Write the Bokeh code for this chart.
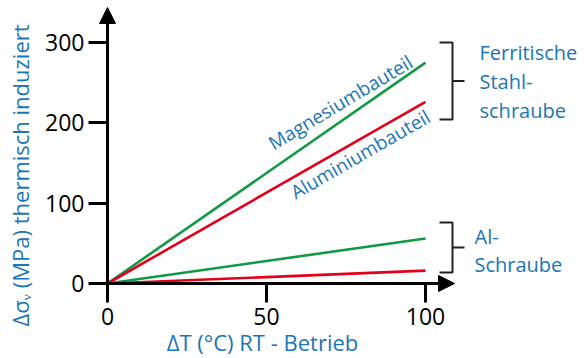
import math
from bokeh.plotting import figure
from bokeh.models import Range1d, Label, Arrow, NormalHead, FixedTicker
from bokeh.embed import file_html
from bokeh.resources import INLINE

# ---- data ----
dT = [0, 100]
mg_part_steel = [0, 275]   # Magnesiumbauteil, ferritische Stahlschraube
al_part_steel = [0, 226]   # Aluminiumbauteil, ferritische Stahlschraube
mg_part_alscrew = [0, 56]  # Magnesiumbauteil, Al-Schraube
al_part_alscrew = [0, 16]  # Aluminiumbauteil, Al-Schraube
x_ticks = [0, 50, 100]
y_ticks = [0, 100, 200, 300]

# ---- style ----
FONT = "Open Sans"
BLUE = "#1a76b5"
GREEN = "#109a45"
RED = "#e2001a"

W, H = 588, 358
X0, Y0 = 107, 283   # pixel position of the origin
XS = 3.18           # px per unit x
YS = 0.80333        # px per unit y
FIX = 0.35          # baseline correction (em)


def dx(px):
    return (px - X0) / XS


def dy(py):
    return (Y0 - py) / YS


def label(text, px, py, size, angle_deg=0.0, align="left"):
    # px, py: wanted baseline start in pixels
    s = FIX * size
    a = math.radians(angle_deg)
    px -= s * math.sin(a)
    py -= s * math.cos(a)
    p.add_layout(Label(x=dx(px), y=dy(py), text=text, angle=a, text_font=FONT,
                       text_font_size=f"{size}px", text_color=BLUE,
                       text_align=align, text_baseline="alphabetic"))


p = figure(width=W, height=H, output_backend="svg", toolbar_location=None,
           x_range=Range1d(dx(0), dx(W)), y_range=Range1d(dy(H), dy(0)),
           min_border=0)
p.outline_line_color = None
p.grid.visible = False
p.background_fill_color = "white"

for ax in (p.xaxis[0], p.yaxis[0]):
    ax.fixed_location = 0
    ax.axis_line_color = None
    ax.major_tick_in = 0
    ax.major_tick_out = 19
    ax.major_tick_line_width = 3
    ax.major_tick_line_color = "black"
    ax.minor_tick_line_color = None
    ax.major_label_text_font = FONT
    ax.major_label_text_font_size = "23px"
    ax.major_label_text_color = "black"

p.xaxis.ticker = FixedTicker(ticks=x_ticks)
p.yaxis.ticker = FixedTicker(ticks=y_ticks)
p.xaxis.major_label_standoff = 5
p.yaxis.major_label_standoff = 4

# data lines
p.line(dT, mg_part_steel, line_color=GREEN, line_width=2.6)
p.line(dT, al_part_steel, line_color=RED, line_width=2.6)
p.line(dT, mg_part_alscrew, line_color=GREEN, line_width=2.6)
p.line(dT, al_part_alscrew, line_color=RED, line_width=2.6)

# axis arrows
p.add_layout(Arrow(x_start=0, y_start=0, x_end=dx(454), y_end=0, line_width=3,
                   line_color="black",
                   end=NormalHead(size=16, fill_color="black", line_color="black")))
p.add_layout(Arrow(x_start=0, y_start=0, x_end=0, y_end=dy(7), line_width=3,
                   line_color="black",
                   end=NormalHead(size=16, fill_color="black", line_color="black")))

# line labels
label("Magnesiumbauteil", 273, 150, 19, 31)
label("Aluminiumbauteil", 295, 199, 19, 30)

# brackets
BR = "#222222"
for top, bot in ((42, 119), (222, 272)):
    mid = (top + bot) / 2
    p.line([dx(439), dx(452), dx(452), dx(439)], [dy(top), dy(top), dy(bot), dy(bot)],
           line_color=BR, line_width=2)
    p.line([dx(452), dx(464)], [dy(mid), dy(mid)], line_color=BR, line_width=2)

for txt, px, py in (("Ferritische", 479, 59), ("Stahl-", 479, 88), ("schraube", 479, 117),
                    ("Al-", 474, 243), ("Schraube", 474, 271)):
    label(txt, px, py, 20)

# axis titles
label("ΔT (°C) RT - Betrieb", 262, 349, 22, 0, "center")
p.add_layout(Label(x=dx(19), y=dy(175), text="Δσᵥ (MPa) thermisch induziert",
                   angle=math.pi / 2, text_font=FONT, text_font_size="22px",
                   text_color=BLUE, text_align="center", text_baseline="middle"))

open("out.html", "w").write(file_html(p, INLINE))
